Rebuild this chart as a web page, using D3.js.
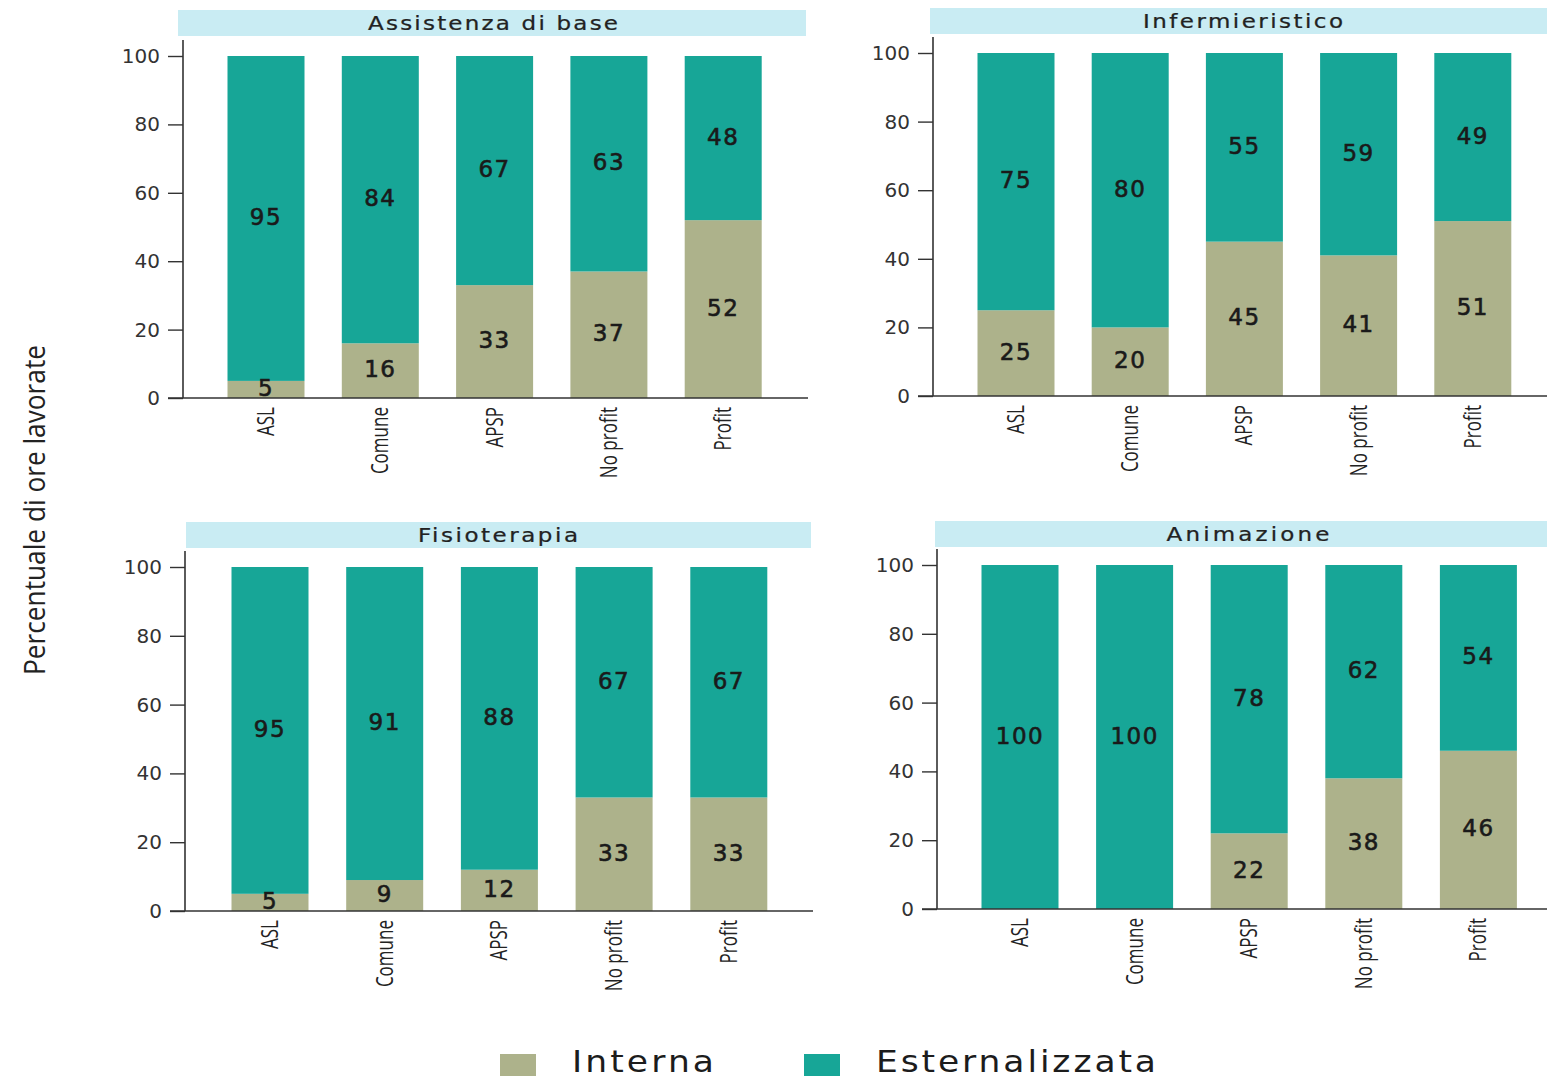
<!DOCTYPE html>
<html><head><meta charset="utf-8">
<script src="https://cdn.jsdelivr.net/npm/d3@7"></script>
<style>
html,body{margin:0;padding:0;background:#fff;}
svg{display:block;}
</style></head>
<body>
<script>
// ---- DATA ----
const categories = ["ASL", "Comune", "APSP", "No profit", "Profit"];
const panelTitles = ["Assistenza di base", "Infermieristico", "Fisioterapia", "Animazione"];
const seriesNames = ["Interna", "Esternalizzata"];
const internaAssistenza = [5, 16, 33, 37, 52];
const esternaAssistenza = [95, 84, 67, 63, 48];
const internaInfermieristico = [25, 20, 45, 41, 51];
const esternaInfermieristico = [75, 80, 55, 59, 49];
const internaFisioterapia = [5, 9, 12, 33, 33];
const esternaFisioterapia = [95, 91, 88, 67, 67];
const internaAnimazione = [0, 0, 22, 38, 46];
const esternaAnimazione = [100, 100, 78, 62, 54];
const yTicks = [0, 20, 40, 60, 80, 100];
const yAxisTitle = "Percentuale di ore lavorate";

const interna = [internaAssistenza, internaInfermieristico, internaFisioterapia, internaAnimazione];
const esterna = [esternaAssistenza, esternaInfermieristico, esternaFisioterapia, esternaAnimazione];

// ---- STYLE / LAYOUT ----
const colInterna = "#adb28b";
const colEsterna = "#17a697";
const colHeader = "#c9ecf3";
const W = 1547, H = 1081;

const layout = [
  {axisX: 183, y0: 398, y100: 56, hdrX: 178, hdrW: 628, hdrY: 10, hdrH: 26, axisEnd: 808, c0: 266, step: 114.3, tx: 493, tLen: 250},
  {axisX: 933, y0: 396, y100: 53, hdrX: 930, hdrW: 617, hdrY: 8, hdrH: 26, axisEnd: 1547, c0: 1016, step: 114.2, tx: 1243, tLen: 200},
  {axisX: 185, y0: 911, y100: 567, hdrX: 186, hdrW: 625, hdrY: 522, hdrH: 26, axisEnd: 813, c0: 270, step: 114.7, tx: 498, tLen: 160},
  {axisX: 937, y0: 909, y100: 565, hdrX: 935, hdrW: 612, hdrY: 521, hdrH: 26, axisEnd: 1547, c0: 1020, step: 114.6, tx: 1248, tLen: 163}
];
const barW = 77;
const wideFont = "DejaVu Sans, Verdana, sans-serif";

const svg = d3.select("body").append("svg").attr("width", W).attr("height", H);

// stretch text horizontally (up to maxScale) then letter-space to reach target width
function fitText(t, x, y, target, maxScale) {
  const w0 = t.node().getComputedTextLength();
  const s = Math.min(maxScale, target / w0);
  t.attr("x", 0).attr("y", 0)
   .attr("transform", `translate(${x},${y}) scale(${s},1)`);
  if (target / s > w0 + 1) t.attr("textLength", target / s).attr("lengthAdjust", "spacing");
}

layout.forEach((L, p) => {
  const g = svg.append("g");
  const n = categories.length;
  const x = d3.scaleBand().domain(categories)
    .range([L.c0 - L.step/2, L.c0 - L.step/2 + n*L.step])
    .paddingInner(1 - barW/L.step).paddingOuter((1 - barW/L.step)/2);
  const y = d3.scaleLinear().domain([0, 100]).range([L.y0, L.y100]);

  // header
  g.append("rect").attr("x", L.hdrX).attr("y", L.hdrY).attr("width", L.hdrW).attr("height", L.hdrH)
    .attr("fill", colHeader);
  const ht = g.append("text")
    .attr("text-anchor", "middle").attr("dominant-baseline", "middle")
    .attr("font-family", wideFont).attr("font-size", 20).attr("fill", "#222")
    .attr("stroke", "#222").attr("stroke-width", 0.25)
    .text(panelTitles[p]);
  fitText(ht, L.tx, L.hdrY + L.hdrH/2 + 1, L.tLen, 1.15);

  const rows = categories.map((c, i) => ({cat: c, int: interna[p][i], ext: esterna[p][i]}));

  // bars
  g.selectAll(".bi").data(rows.filter(d => d.int > 0)).join("rect")
    .attr("x", d => x(d.cat)).attr("width", x.bandwidth())
    .attr("y", d => y(d.int)).attr("height", d => y(0) - y(d.int))
    .attr("fill", colInterna);
  g.selectAll(".be").data(rows).join("rect")
    .attr("x", d => x(d.cat)).attr("width", x.bandwidth())
    .attr("y", d => y(d.int + d.ext)).attr("height", d => y(d.int) - y(d.int + d.ext))
    .attr("fill", colEsterna);

  // value labels
  const lbl = (sel) => sel.attr("text-anchor", "middle").attr("dominant-baseline", "middle")
    .attr("font-family", wideFont).attr("font-size", 23).attr("fill", "#1a1a1a")
    .attr("stroke", "#1a1a1a").attr("stroke-width", 0.6).attr("letter-spacing", 1.5);
  g.selectAll(".li").data(rows.filter(d => d.int > 0)).join("text")
    .attr("x", d => x(d.cat) + x.bandwidth()/2).attr("y", d => y(d.int/2))
    .call(lbl).text(d => d.int);
  g.selectAll(".le").data(rows).join("text")
    .attr("x", d => x(d.cat) + x.bandwidth()/2).attr("y", d => y(d.int + d.ext/2))
    .call(lbl).text(d => d.ext);

  // y axis
  const ya = g.append("g").attr("transform", `translate(${L.axisX},0)`)
    .call(d3.axisLeft(y).tickValues(yTicks).tickSize(15).tickPadding(8));
  ya.select(".domain").attr("d", `M0,${L.y100 - 16}V${L.y0}`).attr("stroke", "#333").attr("stroke-width", 1.6);
  ya.selectAll(".tick line").attr("stroke", "#333").attr("stroke-width", 1.4);
  ya.selectAll(".tick text").attr("font-family", wideFont).attr("font-size", 20).attr("fill", "#333");

  // x axis
  g.append("line").attr("x1", L.axisX - 15).attr("x2", L.axisEnd).attr("y1", L.y0).attr("y2", L.y0)
    .attr("stroke", "#333").attr("stroke-width", 1.6);
  const xa = g.append("g").attr("transform", `translate(0,${L.y0})`)
    .call(d3.axisBottom(x).tickSize(0).tickPadding(0));
  xa.select(".domain").remove();
  xa.selectAll(".tick text")
    .attr("transform", "rotate(-90) scale(0.74,1)")
    .attr("x", -9 / 0.74).attr("y", 0).attr("dy", "0.35em")
    .attr("text-anchor", "end")
    .attr("font-family", "Open Sans")
    .attr("font-size", 23).attr("fill", "#222");
});

// y axis title
svg.append("text").attr("transform", "translate(37,510) rotate(-90)")
  .attr("text-anchor", "middle").attr("dominant-baseline", "middle")
  .attr("font-family", "Open Sans")
  .attr("font-size", 30).attr("fill", "#222")
  .attr("textLength", 330).attr("lengthAdjust", "spacingAndGlyphs")
  .text(yAxisTitle);

// legend
const legendItems = [
  {name: seriesNames[0], color: colInterna, x: 500, len: 142},
  {name: seriesNames[1], color: colEsterna, x: 804, len: 280}
];
const lg = svg.append("g");
lg.selectAll("rect").data(legendItems).join("rect")
  .attr("x", d => d.x).attr("y", 1054).attr("width", 36).attr("height", 22).attr("fill", d => d.color);
lg.selectAll("text").data(legendItems).join("text")
  .attr("dominant-baseline", "middle")
  .attr("font-family", wideFont).attr("font-size", 30).attr("fill", "#1c1c1c")
  .text(d => d.name)
  .each(function(d) { fitText(d3.select(this), d.x + 72, 1064, d.len, 1.15); });
</script>
</body></html>
